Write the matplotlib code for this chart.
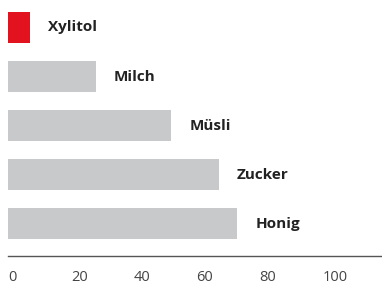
import matplotlib.pyplot as plt

# data
labels = ['Xylitol', 'Milch', 'Müsli', 'Zucker', 'Honig']
values = [7, 28, 52, 67, 73]
colors = ['#e2131f', '#c8c9cb', '#c8c9cb', '#c8c9cb', '#c8c9cb']
xticks = [0, 20, 40, 60, 80, 100]

plt.rcParams['font.family'] = ['Open Sans', 'DejaVu Sans']

fig = plt.figure(figsize=(3.82, 2.85), dpi=100)
ax = fig.add_axes([8 / 382, 29 / 285, 374 / 382, 256 / 285])

ypos = list(range(len(labels)))
ax.barh(ypos, values, height=0.63, color=colors)

# bold label right after each bar
for y, v, name in zip(ypos, values, labels):
    ax.annotate(name, (v, y), xytext=(13, 0), textcoords='offset points',
                ha='left', va='center', fontsize=11, fontweight='bold',
                color='#222222')

ax.set_xlim(0, 119)
ax.set_ylim(4.66, -0.56)

ax.set_xticks(xticks)
ax.set_xticklabels([str(t) for t in xticks], ha='left')
ax.tick_params(axis='x', length=0, pad=10, labelsize=10.5, labelcolor='#444444')
ax.set_yticks([])

for side in ['top', 'right', 'left']:
    ax.spines[side].set_visible(False)
ax.spines['bottom'].set_color('#555555')
ax.spines['bottom'].set_linewidth(1.0)

fig.savefig('out.png', dpi=100)
